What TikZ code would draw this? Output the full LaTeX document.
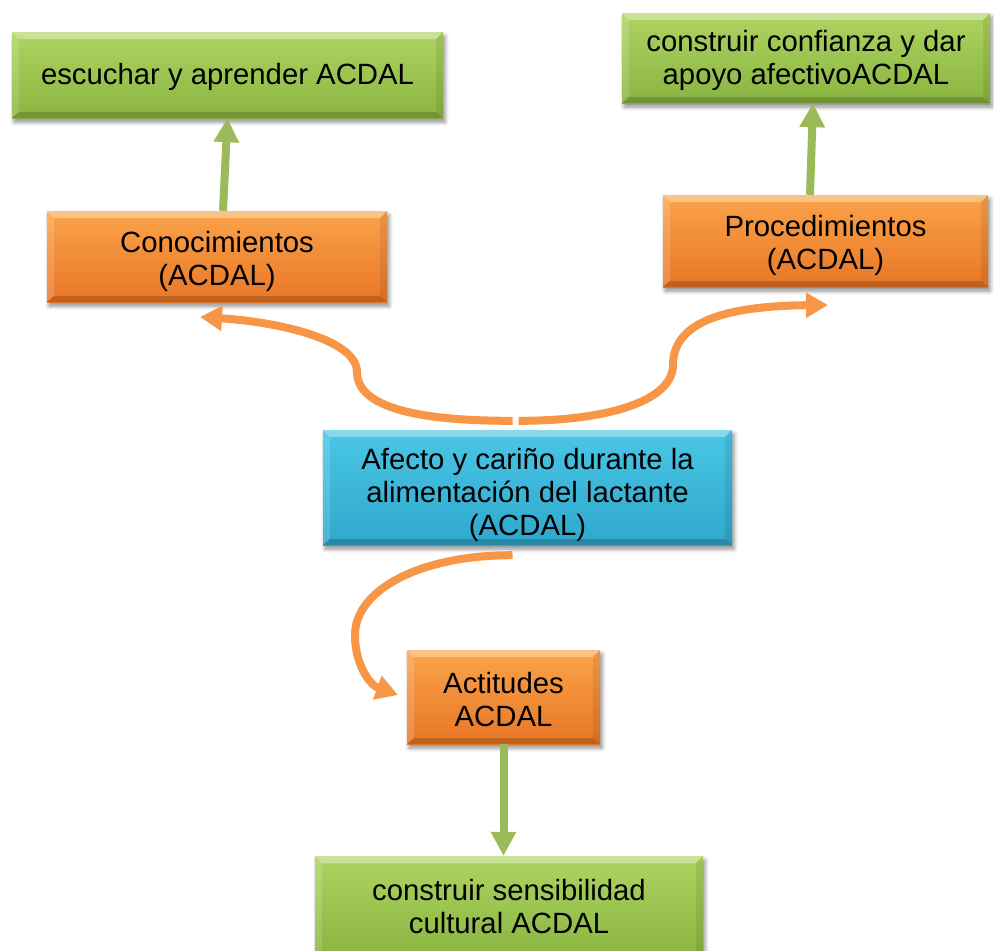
\documentclass[tikz,border=0pt]{standalone}
\usepackage{fontspec}
\setmainfont{Liberation Sans}
\usetikzlibrary{arrows.meta,shadows.blur}

\definecolor{grnTop}{RGB}{174,212,98}
\definecolor{grnBot}{RGB}{138,180,64}
\definecolor{orgTop}{RGB}{251,164,74}
\definecolor{orgBot}{RGB}{232,118,38}
\definecolor{bluTop}{RGB}{74,198,230}
\definecolor{bluBot}{RGB}{46,168,204}
\definecolor{arrGreen}{RGB}{155,187,89}
\definecolor{arrOrange}{RGB}{247,150,70}

% centred, possibly multi-line label, lowered by the optional amount
% while keeping its natural height and depth
\newcommand\boxtext[2][0pt]{\raisebox{#1}[\height][\depth]{\begin{tabular}{@{}c@{}}#2\end{tabular}}}

\tikzset{
  % bevelled edges: light top/left, dark bottom/right
  bevel/.style={path picture={
    \def\bb{path picture bounding box}
    \fill[white,opacity=0.35] (\bb.north west) -- (\bb.north east)
      -- ([xshift=-7pt,yshift=-7pt]\bb.north east) -- ([xshift=7pt,yshift=-7pt]\bb.north west) -- cycle;
    \fill[white,opacity=0.15] (\bb.north west) -- ([xshift=7pt,yshift=-7pt]\bb.north west)
      -- ([xshift=7pt,yshift=6pt]\bb.south west) -- (\bb.south west) -- cycle;
    \fill[black,opacity=0.08] (\bb.north east) -- ([xshift=-7pt,yshift=-7pt]\bb.north east)
      -- ([xshift=-7pt,yshift=6pt]\bb.south east) -- (\bb.south east) -- cycle;
    \fill[black,opacity=0.18] (\bb.south west) -- ([xshift=7pt,yshift=6pt]\bb.south west)
      -- ([xshift=-7pt,yshift=6pt]\bb.south east) -- (\bb.south east) -- cycle;
  }},
  box/.style={bevel, inner sep=0pt, text=black,
    font=\fontsize{29.3}{33}\selectfont,
    blur shadow={shadow xshift=2pt, shadow yshift=-4pt, shadow blur radius=4pt, shadow opacity=45}},
  greenbox/.style={box, top color=grnTop, bottom color=grnBot},
  orangebox/.style={box, top color=orgTop, bottom color=orgBot},
  bluebox/.style={box, top color=bluTop, bottom color=bluBot},
  garrow/.style={draw=arrGreen, line width=8pt, -{Triangle[width=24pt,length=24pt]}},
  oarrow/.style={draw=arrOrange, line width=8pt, -{Triangle[width=24pt,length=22pt]}},
}

\begin{document}
\begin{tikzpicture}[x=1pt,y=1pt]
\useasboundingbox (0,0) rectangle (994,-951);

% boxes
\node[greenbox, minimum width=431, minimum height=86] (g1) at (227.5,-75)
  {\boxtext[-3pt]{escuchar y aprender ACDAL}};
\node[greenbox, minimum width=368, minimum height=90] (g2) at (806,-58)
  {\boxtext[-3pt]{construir confianza y dar\\apoyo afectivoACDAL}};
\node[orangebox, minimum width=340, minimum height=91] (o1) at (217,-256.5)
  {\boxtext[-6pt]{Conocimientos\\(ACDAL)}};
\node[orangebox, minimum width=325, minimum height=92] (o2) at (825.5,-241)
  {\boxtext[-5.5pt]{Procedimientos\\(ACDAL)}};
\node[bluebox, minimum width=409, minimum height=115] (blu) at (527.5,-487.5)
  {\boxtext[-8pt]{Afecto y cariño durante la\\alimentación del lactante\\(ACDAL)}};
\node[orangebox, minimum width=193, minimum height=94] (act) at (503.5,-697)
  {\boxtext[-6pt]{Actitudes\\ACDAL}};
\node[greenbox, minimum width=388, minimum height=102] (g3) at (509,-907)
  {\boxtext[-3pt]{construir sensibilidad\\cultural ACDAL}};

% free ends of the curved arrows
\coordinate (ltip) at (200,-317);
\coordinate (rtip) at (828,-305);
\coordinate (btip) at (398,-695);

% curved orange connectors from the central box
\draw[oarrow] ([xshift=-15pt,yshift=9pt]blu.north)
  .. controls (420,-421) and (357,-408) .. (357,-372)
  .. controls (357,-340) and (280,-322) .. (ltip);
\draw[oarrow] ([xshift=-9pt,yshift=9pt]blu.north)
  .. controls (610,-421) and (673,-400) .. (673,-365)
  .. controls (673,-322) and (725,-306) .. (rtip);
\draw[oarrow] ([xshift=-15pt,yshift=-10pt]blu.south)
  .. controls (420,-555) and (355,-590) .. (355,-635)
  .. controls (355,-665) and (370,-685) .. (btip);

% straight green connectors
\draw[garrow] ([xshift=6pt]o1.north) -- (g1.south);
\draw[garrow] ([xshift=-15.5pt]o2.north) -- ([xshift=7pt]g2.south);
\draw[garrow] (act.south) -- (act.south |- g3.north);
\end{tikzpicture}
\end{document}
